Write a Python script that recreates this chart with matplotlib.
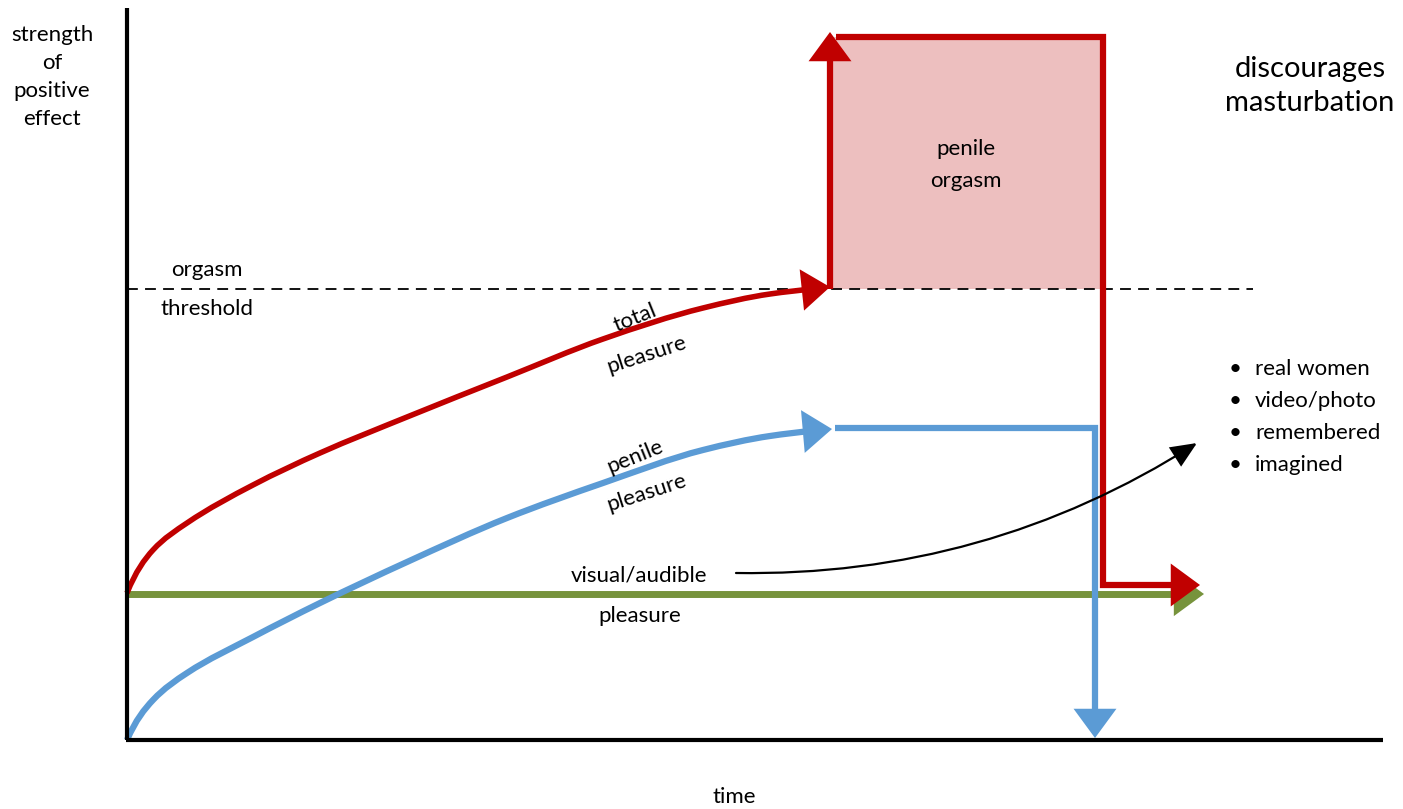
import matplotlib
matplotlib.use("Agg")
import matplotlib.pyplot as plt
from matplotlib.path import Path
from matplotlib.patches import PathPatch

# ---- data (chart units: time from the y-axis, strength above the x-axis) ----
penile_time = [0, 26, 60, 126, 193, 280, 380, 476, 576, 643, 686]
penile_pleasure = [0, 40, 67, 103, 137, 178, 222, 257, 290, 304, 309]
total_time = [0, 26, 60, 126, 193, 280, 380, 476, 576, 643, 688]
total_pleasure = [147, 190, 217, 255, 287, 323, 363, 401, 432, 446, 451]
visual_level = 146
threshold = 451
orgasm_start, orgasm_end = 703, 976
orgasm_peak = 703
after_orgasm_level = 155
penile_plateau = 312
penile_plateau_end = 968
time_end = 1073
axis_top, axis_right = 732, 1256

RED = "#C00000"
BLUE = "#5B9BD5"
GREEN = "#77933C"
FILL = "#EDBFBF"
FONT = "Lato"

fig = plt.figure(figsize=(14.03, 8.09), dpi=100)
ax = fig.add_axes([0, 0, 1, 1])
ax.set_xlim(-127, 1276)
ax.set_ylim(-69, 740)
ax.axis("off")


def arrow(xy_from, xy_to, color, lw, scale=20, hl=0.75, hw=0.55, z=3):
    ax.annotate("", xy=xy_to, xytext=xy_from,
                arrowprops=dict(arrowstyle=f"-|>,head_length={hl},head_width={hw}",
                                color=color, lw=lw, shrinkA=0, shrinkB=0,
                                mutation_scale=scale, joinstyle="miter",
                                capstyle="butt"),
                zorder=z)


def smooth_curve(xs, ys, color, lw, z=3):
    # monotone cubic (Fritsch-Carlson) through the read points, as Bezier segments
    n = len(xs)
    h = [xs[i + 1] - xs[i] for i in range(n - 1)]
    d = [(ys[i + 1] - ys[i]) / h[i] for i in range(n - 1)]
    m = [0.0] * n
    m[0] = d[0] * 1.5
    m[-1] = d[-1] * 0.6
    for i in range(1, n - 1):
        w1 = 2 * h[i] + h[i - 1]
        w2 = h[i] + 2 * h[i - 1]
        m[i] = (w1 + w2) / (w1 / d[i - 1] + w2 / d[i])
    verts = [(xs[0], ys[0])]
    codes = [Path.MOVETO]
    for i in range(n - 1):
        c1 = (xs[i] + h[i] / 3, ys[i] + m[i] * h[i] / 3)
        c2 = (xs[i + 1] - h[i] / 3, ys[i + 1] - m[i + 1] * h[i] / 3)
        verts += [c1, c2, (xs[i + 1], ys[i + 1])]
        codes += [Path.CURVE4] * 3
    ax.add_patch(PathPatch(Path(verts, codes), fill=False, edgecolor=color, lw=lw,
                           capstyle="butt", zorder=z))


# axes
ax.plot([0, 0], [0, axis_top], color="black", lw=3, solid_capstyle="butt", zorder=5)
ax.plot([-1, axis_right], [0, 0], color="black", lw=3, solid_capstyle="butt", zorder=5)

# orgasm fill
ax.fill_between([orgasm_start, orgasm_end], threshold, orgasm_peak, color=FILL, lw=0, zorder=1)

# threshold dashed
ax.plot([0, 1126], [threshold, threshold], color="black", lw=1.3, dashes=(6, 4), zorder=2)

# green visual pleasure
ax.plot([0, time_end - 14], [visual_level, visual_level], color=GREEN, lw=5, zorder=2,
        solid_capstyle="butt")
arrow((time_end - 16, visual_level), (time_end + 4, visual_level), GREEN, 5, z=2)

# red total pleasure curve
smooth_curve(total_time, total_pleasure, RED, 4)
arrow((total_time[-1] - 4, total_pleasure[-1]), (orgasm_start, threshold + 2), RED, 4)
# vertical orgasm rise
ax.plot([orgasm_start, orgasm_start], [threshold, orgasm_peak - 18], color=RED, lw=4.5,
        solid_capstyle="butt", zorder=3)
arrow((orgasm_start, orgasm_peak - 20), (orgasm_start, orgasm_peak + 5), RED, 4.5)
# top and drop
ax.plot([orgasm_start + 6, orgasm_end, orgasm_end, time_end - 16],
        [orgasm_peak, orgasm_peak, after_orgasm_level, after_orgasm_level], color=RED,
        lw=4.5, zorder=3, solid_joinstyle="miter", solid_capstyle="butt")
arrow((time_end - 18, after_orgasm_level), (time_end, after_orgasm_level), RED, 4.5)

# blue penile pleasure curve
smooth_curve(penile_time, penile_pleasure, BLUE, 4.5)
arrow((penile_time[-1] - 4, penile_pleasure[-1]), (orgasm_start + 2, penile_plateau - 1),
      BLUE, 4.5)
ax.plot([orgasm_start + 5, penile_plateau_end, penile_plateau_end],
        [penile_plateau, penile_plateau, 20], color=BLUE, lw=4.5, zorder=3,
        solid_joinstyle="miter", solid_capstyle="butt")
arrow((penile_plateau_end, 22), (penile_plateau_end, 2), BLUE, 4.5)

# curved black arrow
ax.annotate("", xy=(1070, 297), xytext=(609, 167),
            arrowprops=dict(arrowstyle="-|>,head_length=0.8,head_width=0.35",
                            color="black", lw=1.6, shrinkA=0, shrinkB=0,
                            mutation_scale=20, connectionstyle="arc3,rad=0.15",
                            joinstyle="miter"),
            zorder=4)

fs = 16
tk = dict(family=FONT, fontsize=fs, color="black", ha="center", va="center")
ax.text(-75, 663, "strength\nof\npositive\neffect", linespacing=1.52, **tk)
ax.text(80, 470, "orgasm", **tk)
ax.text(80, 431, "threshold", **tk)
ax.text(839, 575, "penile\norgasm", linespacing=1.75, **tk)
ax.text(1183, 654, "discourages\nmasturbation", family=FONT, fontsize=21, ha="center",
        va="center", linespacing=1.42)
ax.text(508, 422, "total", rotation=22, **tk)
ax.text(520, 385, "pleasure", rotation=18, **tk)
ax.text(508, 283, "penile", rotation=22, **tk)
ax.text(520, 247, "pleasure", rotation=18, **tk)
ax.text(512, 164, "visual/audible", **tk)
ax.text(513, 124, "pleasure", **tk)
ax.text(607, -57, "time", **tk)

bullets = ["real women", "video/photo", "remembered", "imagined"]
for i, b in enumerate(bullets):
    y = 371 - i * 32
    ax.text(1108, y, "\u2022", family=FONT, fontsize=fs, ha="center", va="center")
    ax.text(1128, y, b, family=FONT, fontsize=fs, ha="left", va="center")

fig.savefig("out.png", dpi=100, facecolor="white")
